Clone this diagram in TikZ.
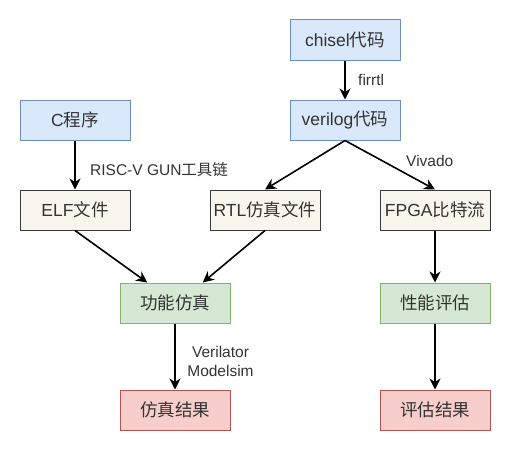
\documentclass[tikz,border=0pt]{standalone}
\usepackage{fontspec}
\setmainfont{Liberation Sans}
\newfontfamily\cjk{Noto Sans CJK SC}
\usepackage{tikz}
\usetikzlibrary{arrows.meta,calc}
\definecolor{blueFill}{HTML}{DAE8FC}
\definecolor{blueLine}{HTML}{6C8EBF}
\definecolor{paperFill}{HTML}{F9F7ED}
\definecolor{paperLine}{HTML}{36393D}
\definecolor{greenFill}{HTML}{D5E8D4}
\definecolor{greenLine}{HTML}{82B366}
\definecolor{redFill}{HTML}{F8CECC}
\definecolor{redLine}{HTML}{B85450}
\definecolor{txt}{HTML}{333333}

\begin{document}
\begin{tikzpicture}[x=1pt,y=-1pt,
    box/.style={draw, line width=1pt, minimum width=110pt, minimum height=40pt,
        inner sep=0pt, text=txt, font=\fontsize{17.5}{20}\selectfont},
    src/.style={box, fill=blueFill, draw=blueLine},
    mid/.style={box, fill=paperFill, draw=paperLine},
    run/.style={box, fill=greenFill, draw=greenLine},
    res/.style={box, fill=redFill, draw=redLine},
    flow/.style={-{Stealth[length=11pt,width=11pt,inset=3.5pt]}, line width=1.6pt},
    tag/.style={text=txt, inner sep=0pt, font=\fontsize{15.5}{19}\selectfont}]
    \useasboundingbox (0,0) rectangle (532,452);
    % sources
    \node[src] (chisel) at (345,40) {chisel{\cjk 代码}};
    \node[src] (verilog) at (345,120) {verilog{\cjk 代码}};
    \node[src] (cprog) at (75,120) {C{\cjk 程序}};
    % intermediate files
    \node[mid] (elf) at (75,210) {ELF{\cjk 文件}};
    \node[mid] (rtl) at (265,210) {RTL{\cjk 仿真文件}};
    \node[mid] (fpga) at (435,210) {FPGA{\cjk 比特流}};
    % simulation / evaluation
    \node[run] (funcsim) at (175,303) {\cjk 功能仿真};
    \node[run] (perfeval) at (435,303) {\cjk 性能评估};
    \node[res] (simres) at (175,410) {\cjk 仿真结果};
    \node[res] (evalres) at (435,410) {\cjk 评估结果};
    % connectors
    \draw[flow] (chisel) -- (verilog);
    \draw[flow] (cprog) -- (elf);
    \draw[flow] (verilog.south) -- (rtl.north);
    \draw[flow] (verilog.south) -- (fpga.north);
    \draw[flow] (elf.south) -- ($(funcsim.north west)!0.25!(funcsim.north east)$);
    \draw[flow] (rtl.south) -- ($(funcsim.north west)!0.75!(funcsim.north east)$);
    \draw[flow] (fpga) -- (perfeval);
    \draw[flow] (funcsim) -- (simres);
    \draw[flow] (perfeval) -- (evalres);
    % labels
    \node[tag, anchor=west] (firrtl) at (358,80) {firrtl};
    \node[tag, anchor=west] (gnu) at (90,170) {RISC-V GUN{\cjk 工具链}};
    \node[tag, anchor=west] (vivado) at (406,161) {Vivado};
    \node[tag, align=center] (simtool) at (220.5,361) {Verilator\\Modelsim};
\end{tikzpicture}
\end{document}
